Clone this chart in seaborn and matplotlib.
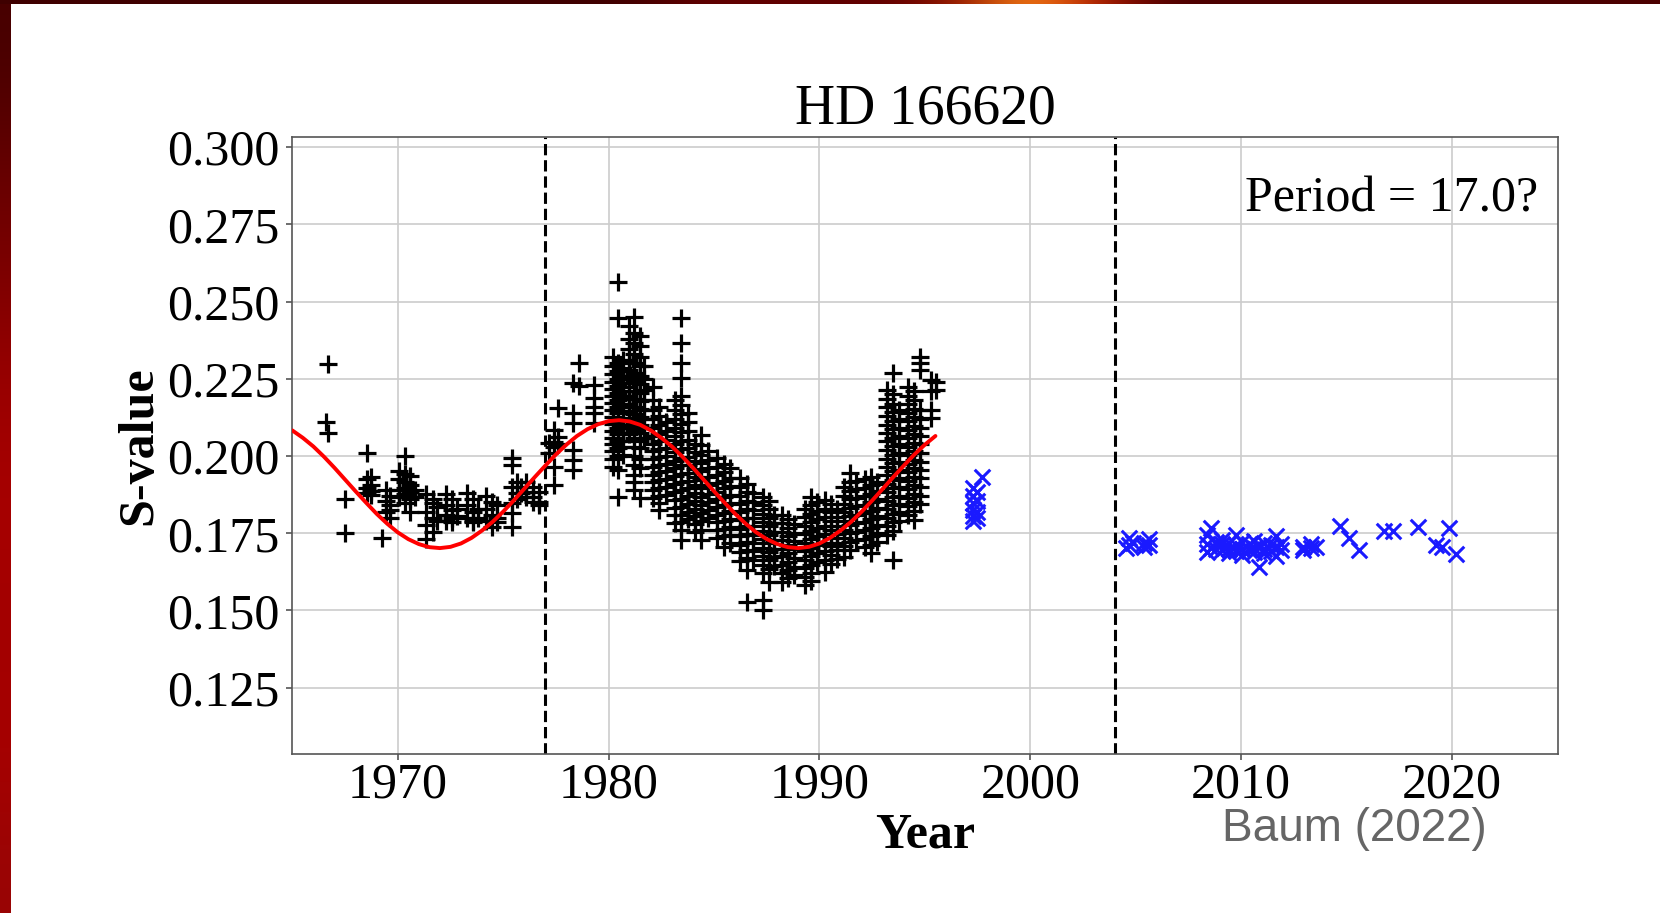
import numpy as np
import matplotlib
matplotlib.use("Agg")
import matplotlib.pyplot as plt
import seaborn as sns

# ---------------- data ----------------
x_ticks = [1970, 1980, 1990, 2000, 2010, 2020]
y_ticks = [0.125, 0.150, 0.175, 0.200, 0.225, 0.250, 0.275, 0.300]
season_breaks = [1977, 2004]
period_label = "Period = 17.0?"

# sine fit (red curve), every half year
fit_years = [1965, 1965.5, 1966, 1966.5, 1967, 1967.5, 1968, 1968.5, 1969, 1969.5,
             1970, 1970.5, 1971, 1971.5, 1972, 1972.5, 1973, 1973.5, 1974, 1974.5,
             1975, 1975.5, 1976, 1976.5, 1977, 1977.5, 1978, 1978.5, 1979, 1979.5,
             1980, 1980.5, 1981, 1981.5, 1982, 1982.5, 1983, 1983.5, 1984, 1984.5,
             1985, 1985.5, 1986, 1986.5, 1987, 1987.5, 1988, 1988.5, 1989, 1989.5,
             1990, 1990.5, 1991, 1991.5, 1992, 1992.5, 1993, 1993.5, 1994, 1994.5,
             1995, 1995.5]
fit_s = [0.2083, 0.2059, 0.2031, 0.1998, 0.1962, 0.1924, 0.1886, 0.1849, 0.1813, 0.1781,
         0.1753, 0.1731, 0.1715, 0.1705, 0.1702, 0.1706, 0.1717, 0.1735, 0.1759, 0.1787,
         0.1820, 0.1856, 0.1894, 0.1932, 0.1969, 0.2005, 0.2037, 0.2065, 0.2087, 0.2103,
         0.2113, 0.2116, 0.2112, 0.2101, 0.2083, 0.2059, 0.2031, 0.1998, 0.1962, 0.1924,
         0.1886, 0.1849, 0.1813, 0.1781, 0.1753, 0.1731, 0.1715, 0.1705, 0.1702, 0.1706,
         0.1717, 0.1735, 0.1759, 0.1787, 0.1820, 0.1856, 0.1894, 0.1932, 0.1969, 0.2005,
         0.2037, 0.2065]

# Mount Wilson (black +): (year, [S-values]) per observing column
mw_1966_1976 = [
    (1966.7, [0.2297, 0.2074]), (1966.6, [0.2111]),
    (1967.5, [0.1862, 0.1750]),
    (1968.55, [0.2009, 0.1925, 0.1898, 0.1880]), (1968.75, [0.1932, 0.1905, 0.1888, 0.1873]),
    (1969.27, [0.1734]),
    (1969.45, [0.1889, 0.1856, 0.1818]), (1969.65, [0.1872, 0.1840, 0.1798, 0.1825]),
    (1970.05, [0.1953, 0.1925, 0.1890, 0.1866]),
    (1970.35, [0.1999, 0.1942, 0.1915, 0.1895, 0.1878, 0.1847]),
    (1970.6, [0.1935, 0.1905, 0.1885, 0.1860, 0.1818]), (1970.8, [0.1890, 0.1868]),
    (1971.35, [0.1878, 0.1820, 0.1776, 0.1733]), (1971.65, [0.1847, 0.1800, 0.1755, 0.1862]),
    (1971.85, [0.1835, 0.1790]),
    (1972.3, [0.1878, 0.1840, 0.1810, 0.1790]), (1972.55, [0.1860, 0.1825, 0.1800, 0.1785]),
    (1972.8, [0.1830, 0.1805]),
    (1973.3, [0.1880, 0.1840, 0.1800]), (1973.55, [0.1860, 0.1820, 0.1790, 0.1785]),
    (1973.8, [0.1830, 0.1800]),
    (1974.2, [0.1870, 0.1830, 0.1790]), (1974.45, [0.1850, 0.1810, 0.1770]),
    (1974.7, [0.1840, 0.1800, 0.1785]),
    (1975.4, [0.1993, 0.1971, 0.1901, 0.1847, 0.1815, 0.1771]),
    (1975.65, [0.1917, 0.1880, 0.1860]), (1975.85, [0.1901, 0.1880]),
    (1976.1, [0.1917, 0.1885, 0.1869]), (1976.4, [0.1901, 0.1869, 0.1852]),
    (1976.7, [0.1885, 0.1852, 0.1842]),
]

mw_1977_1984 = [
    (1977.15, [0.2042, 0.2010]),
    (1977.4, [0.2085, 0.2047, 0.2030, 0.1966, 0.1906]),
    (1977.6, [0.2155, 0.2063, 0.2040]),
    (1978.3, [0.2236, 0.2139, 0.2106, 0.2020, 0.1987, 0.1955]),
    (1978.6, [0.2301, 0.2227]),
    (1979.3, [0.2230, 0.2187, 0.2160, 0.2139, 0.2106]),
    (1980.2, [0.2322, 0.2290, 0.2265, 0.2240, 0.2218, 0.2195, 0.2172, 0.2150, 0.2128,
              0.2105, 0.2082, 0.2060, 0.2038, 0.2015, 0.1990, 0.1965]),
    (1980.45, [0.2565, 0.2446, 0.2300, 0.2275, 0.2250, 0.2228, 0.2205, 0.2182, 0.2160,
               0.2138, 0.2115, 0.2092, 0.2070, 0.2048, 0.2025, 0.2000, 0.1955, 0.1869]),
    (1980.7, [0.2310, 0.2285, 0.2260, 0.2235, 0.2212, 0.2190, 0.2168, 0.2145, 0.2122,
              0.2100, 0.2075, 0.2050, 0.2028, 0.2005]),
    (1980.95, [0.2420, 0.2380, 0.2345, 0.2310, 0.2280, 0.2250, 0.2222, 0.2195, 0.2170,
               0.2145, 0.2120, 0.2095, 0.2070]),
    (1981.2, [0.2451, 0.2400, 0.2365, 0.2330, 0.2300, 0.2270, 0.2240, 0.2212, 0.2185,
              0.2160, 0.2135, 0.2110, 0.2085, 0.2060, 0.2030, 0.2000, 0.1970, 0.1940,
              0.1915, 0.1890]),
    (1981.5, [0.2390, 0.2355, 0.2320, 0.2290, 0.2260, 0.2232, 0.2205, 0.2178, 0.2152,
              0.2128, 0.2100, 0.2075, 0.2050, 0.2025, 0.1990, 0.1960, 0.1863]),
    (1981.7, [0.2290, 0.2250, 0.2215, 0.2180, 0.2150, 0.2120, 0.2090, 0.2060]),
    (1982.1, [0.2225, 0.2180, 0.2150, 0.2120, 0.2092, 0.2065, 0.2040, 0.2015, 0.1990,
              0.1965, 0.1940, 0.1915, 0.1890, 0.1865]),
    (1982.4, [0.2160, 0.2130, 0.2100, 0.2072, 0.2048, 0.2022, 0.1998, 0.1972, 0.1948,
              0.1922, 0.1898, 0.1872, 0.1848, 0.1825]),
    (1982.7, [0.2110, 0.2080, 0.2052, 0.2025, 0.2000, 0.1975, 0.1950, 0.1925, 0.1900,
              0.1875]),
    (1983.15, [0.2180, 0.2150, 0.2120, 0.2092, 0.2065, 0.2040, 0.2012, 0.1985, 0.1960,
               0.1935, 0.1908, 0.1882, 0.1858, 0.1832, 0.1808, 0.1782]),
    (1983.45, [0.2446, 0.2365, 0.2301, 0.2252, 0.2195, 0.2165, 0.2135, 0.2105, 0.2078,
               0.2050, 0.2022, 0.1995, 0.1970, 0.1942, 0.1915, 0.1890, 0.1862, 0.1835,
               0.1810, 0.1785, 0.1760, 0.1728]),
    (1983.75, [0.2140, 0.2110, 0.2080, 0.2052, 0.2025, 0.1998, 0.1972, 0.1945, 0.1920,
               0.1895, 0.1870, 0.1845, 0.1820, 0.1795]),
    (1984.1, [0.2040, 0.2012, 0.1985, 0.1958, 0.1932, 0.1905, 0.1880, 0.1855, 0.1830,
              0.1805, 0.1780, 0.1755]),
    (1984.4, [0.2068, 0.2035, 0.2005, 0.1978, 0.1950, 0.1922, 0.1895, 0.1868, 0.1842,
              0.1815, 0.1790, 0.1762, 0.1728]),
    (1984.7, [0.2015, 0.1988, 0.1960, 0.1932, 0.1905, 0.1878, 0.1850, 0.1825, 0.1800]),
]

mw_1985_1995 = [
    (1985.15, [0.1994, 0.1965, 0.1938, 0.1912, 0.1885, 0.1860, 0.1835, 0.1810, 0.1785,
               0.1760, 0.1735]),
    (1985.45, [0.1975, 0.1948, 0.1920, 0.1895, 0.1868, 0.1842, 0.1815, 0.1790, 0.1765,
               0.1740, 0.1706]),
    (1985.75, [0.1960, 0.1930, 0.1902, 0.1875, 0.1848, 0.1822, 0.1795, 0.1770, 0.1745,
               0.1720]),
    (1986.25, [0.1929, 0.1900, 0.1872, 0.1845, 0.1818, 0.1792, 0.1765, 0.1740, 0.1712,
               0.1688, 0.1660]),
    (1986.55, [0.1910, 0.1882, 0.1855, 0.1828, 0.1800, 0.1775, 0.1748, 0.1722, 0.1695,
               0.1670, 0.1631, 0.1528]),
    (1986.85, [0.1880, 0.1852, 0.1825, 0.1798, 0.1772, 0.1745, 0.1720, 0.1692, 0.1665]),
    (1987.3, [0.1869, 0.1840, 0.1812, 0.1785, 0.1758, 0.1730, 0.1702, 0.1675, 0.1648,
              0.1620, 0.1534, 0.1502]),
    (1987.6, [0.1855, 0.1828, 0.1800, 0.1772, 0.1745, 0.1718, 0.1690, 0.1662, 0.1635,
              0.1593]),
    (1987.85, [0.1810, 0.1782, 0.1755, 0.1728, 0.1700, 0.1672, 0.1645]),
    (1988.2, [0.1809, 0.1782, 0.1755, 0.1728, 0.1700, 0.1675, 0.1648, 0.1620, 0.1593]),
    (1988.5, [0.1795, 0.1768, 0.1740, 0.1712, 0.1685, 0.1658, 0.1630, 0.1605]),
    (1988.8, [0.1780, 0.1752, 0.1725, 0.1698, 0.1670, 0.1642, 0.1615]),
    (1989.3, [0.1830, 0.1802, 0.1775, 0.1748, 0.1720, 0.1692, 0.1665, 0.1638, 0.1610,
              0.1583]),
    (1989.6, [0.1869, 0.1840, 0.1812, 0.1785, 0.1758, 0.1730, 0.1702, 0.1675, 0.1648,
              0.1620, 0.1595]),
    (1989.9, [0.1850, 0.1822, 0.1795, 0.1768, 0.1740, 0.1712, 0.1685, 0.1658]),
    (1990.25, [0.1858, 0.1830, 0.1802, 0.1775, 0.1748, 0.1720, 0.1692, 0.1665, 0.1626]),
    (1990.55, [0.1845, 0.1818, 0.1790, 0.1762, 0.1735, 0.1708, 0.1680, 0.1652]),
    (1990.85, [0.1830, 0.1802, 0.1775, 0.1748, 0.1720, 0.1695, 0.1668]),
    (1991.15, [0.1900, 0.1872, 0.1845, 0.1818, 0.1790, 0.1762, 0.1735, 0.1708, 0.1674]),
    (1991.45, [0.1945, 0.1915, 0.1888, 0.1860, 0.1832, 0.1805, 0.1778, 0.1750, 0.1722,
               0.1695]),
    (1991.75, [0.1920, 0.1892, 0.1865, 0.1838, 0.1810, 0.1782, 0.1755, 0.1728]),
    (1992.15, [0.1925, 0.1898, 0.1870, 0.1842, 0.1815, 0.1788, 0.1760, 0.1732, 0.1705]),
    (1992.45, [0.1933, 0.1905, 0.1878, 0.1850, 0.1822, 0.1795, 0.1768, 0.1740, 0.1712,
               0.1686]),
    (1992.75, [0.1915, 0.1888, 0.1860, 0.1832, 0.1805, 0.1778, 0.1750, 0.1722]),
    (1993.2, [0.2214, 0.2185, 0.2158, 0.2130, 0.2102, 0.2075, 0.2048, 0.2020, 0.1992,
              0.1965, 0.1938, 0.1910, 0.1882, 0.1855, 0.1828, 0.1800, 0.1772, 0.1745]),
    (1993.5, [0.2269, 0.2200, 0.2170, 0.2142, 0.2115, 0.2088, 0.2060, 0.2032, 0.2005,
              0.1978, 0.1950, 0.1922, 0.1895, 0.1868, 0.1840, 0.1812, 0.1785, 0.1758,
              0.1664]),
    (1993.75, [0.2150, 0.2120, 0.2092, 0.2065, 0.2038, 0.2010, 0.1982, 0.1955, 0.1928,
               0.1900, 0.1872, 0.1845, 0.1818, 0.1790]),
    (1994.2, [0.2225, 0.2195, 0.2168, 0.2140, 0.2112, 0.2085, 0.2058, 0.2030, 0.2002,
              0.1975, 0.1948, 0.1920, 0.1892, 0.1865, 0.1838, 0.1810]),
    (1994.5, [0.2210, 0.2180, 0.2152, 0.2125, 0.2098, 0.2070, 0.2042, 0.2015, 0.1988,
              0.1960, 0.1932, 0.1905, 0.1878, 0.1850, 0.1822, 0.1793]),
    (1994.75, [0.2322, 0.2301, 0.2279, 0.2150, 0.2120, 0.2092, 0.2065, 0.2038, 0.2010,
               0.1982, 0.1955, 0.1928, 0.1900, 0.1872, 0.1845]),
    (1995.3, [0.2246, 0.2209, 0.2149, 0.2122]),
    (1995.55, [0.2240, 0.2215]),
]

# later data (blue x)
blue_cols = [
    (1997.7, [0.1932]),
    (1997.3, [0.1895, 0.1870, 0.1848, 0.1825, 0.1805, 0.1790]),
    (1997.45, [0.1885, 0.1855, 0.1820, 0.1800]),
    (2004.55, [0.1701]), (2004.7, [0.1734, 0.1712]), (2004.85, [0.1718]),
    (2005.4, [0.1718, 0.1705]), (2005.65, [0.1731, 0.1712]),
    (2008.4, [0.1745, 0.1715, 0.1690]), (2008.57, [0.1767, 0.1702]),
    (2008.8, [0.1722, 0.1698]), (2009.1, [0.1715, 0.1695, 0.1728]),
    (2009.4, [0.1720, 0.1700, 0.1685]), (2009.76, [0.1745, 0.1712, 0.1692]),
    (2010.05, [0.1722, 0.1700, 0.1680]), (2010.35, [0.1716, 0.1695]),
    (2010.6, [0.1725, 0.1702, 0.1688]), (2010.86, [0.1710, 0.1640]),
    (2011.1, [0.1718, 0.1698, 0.1685]), (2011.4, [0.1712, 0.1692]),
    (2011.65, [0.1741, 0.1705, 0.1676]), (2011.9, [0.1715, 0.1695]),
    (2012.95, [0.1705, 0.1695]), (2013.3, [0.1716, 0.1702]), (2013.55, [0.1705]),
    (2014.7, [0.1775]), (2015.13, [0.1734]), (2015.6, [0.1697]),
    (2016.75, [0.1756]), (2017.2, [0.1756]), (2018.4, [0.1770]),
    (2019.25, [0.1712]), (2019.5, [0.1705]), (2019.87, [0.1767]), (2020.2, [0.1683]),
]


def expand(cols):
    xs, ys = [], []
    for yr, vals in cols:
        xs.extend([yr] * len(vals))
        ys.extend(vals)
    return xs, ys


mw_x, mw_y = expand(mw_1966_1976 + mw_1977_1984 + mw_1985_1995)
bl_x, bl_y = expand(blue_cols)

# ---------------- style ----------------
sns.set_theme(style="whitegrid")
plt.rcParams["font.family"] = ["Liberation Serif", "DejaVu Serif"]
plt.rcParams["text.color"] = "black"
plt.rcParams["axes.labelcolor"] = "black"

W, H = 1660, 913
fig = plt.figure(figsize=(W / 100, H / 100), dpi=100)
fig.patch.set_facecolor("white")

# slide decoration: dark red strips at left and top
left = fig.add_axes([0, 0, 10 / W, 1])
grad = np.array([[0.28, 0.0, 0.0], [0.40, 0.0, 0.0], [0.50, 0.0, 0.0],
                 [0.62, 0.0, 0.0], [0.66, 0.0, 0.0], [0.63, 0.0, 0.0],
                 [0.66, 0.0, 0.0], [0.60, 0.02, 0.02]])
left.imshow(grad[:, None, :], aspect="auto", interpolation="bicubic")
left.axis("off")
top = fig.add_axes([0, 1 - 4 / H, 1, 4 / H])
topc = np.array([[0.25, 0.0, 0.0]] * 10 + [[0.38, 0.0, 0.0]] * 4 + [[0.6, 0.1, 0.0],
                [1.0, 0.55, 0.1], [0.7, 0.1, 0.0]] + [[0.3, 0.0, 0.0]] * 8)
top.imshow(topc[None, :, :], aspect="auto", interpolation="bicubic")
top.axis("off")

ax = fig.add_axes([292.3 / W, 1 - 753.8 / H, (1557.5 - 292.3) / W, (753.8 - 137.3) / H])
ax.set_facecolor("white")

sns.scatterplot(x=mw_x, y=mw_y, marker="+", s=150, color="black",
                linewidth=2.3, ax=ax, zorder=2)
sns.scatterplot(x=bl_x, y=bl_y, marker="x", s=125, color="#1a1aff",
                linewidth=2.2, ax=ax, zorder=2)
for b in season_breaks:
    ax.axvline(b, color="black", linestyle="--", linewidth=2.2, zorder=2.5)
sns.lineplot(x=fit_years, y=fit_s, color="red", linewidth=2.8, ax=ax,
             estimator=None, sort=False, zorder=3)

ax.set_xlim(1965, 2025)
ax.set_ylim(0.1036, 0.3032)
ax.set_xticks(x_ticks)
ax.set_xticklabels([str(t) for t in x_ticks])
ax.set_yticks(y_ticks)
ax.set_yticklabels([f"{t:.3f}" for t in y_ticks])
ax.grid(True, color="#cccccc", linewidth=1.2)
ax.set_axisbelow(True)
for sp in ax.spines.values():
    sp.set_color("#555555")
    sp.set_linewidth(1.2)
ax.tick_params(axis="both", labelsize=36, length=4, width=1.2, color="#555555",
               labelcolor="black", bottom=True, left=True)
ax.tick_params(axis="x", pad=2)
ax.tick_params(axis="y", pad=5)

ax.set_title("HD 166620", fontsize=40, y=1.045, pad=0, va="center", color="black")
ax.set_xlabel("Year", fontsize=36, fontweight="bold", va="center")
ax.xaxis.set_label_coords(0.5, -0.133)
ax.set_ylabel("S-value", fontsize=36, fontweight="bold", va="center")
ax.yaxis.set_label_coords(-0.1207, 0.5)

ax.text(0.985, 0.880, period_label, transform=ax.transAxes, ha="right",
        va="baseline", fontsize=36, color="black")

fig.text(1221.7 / W, 1 - 840.7 / H, "Baum (2022)", ha="left", va="baseline",
         fontsize=33, color="#666666", family=["Liberation Sans", "DejaVu Sans"])

fig.savefig("out.png", dpi=100)
